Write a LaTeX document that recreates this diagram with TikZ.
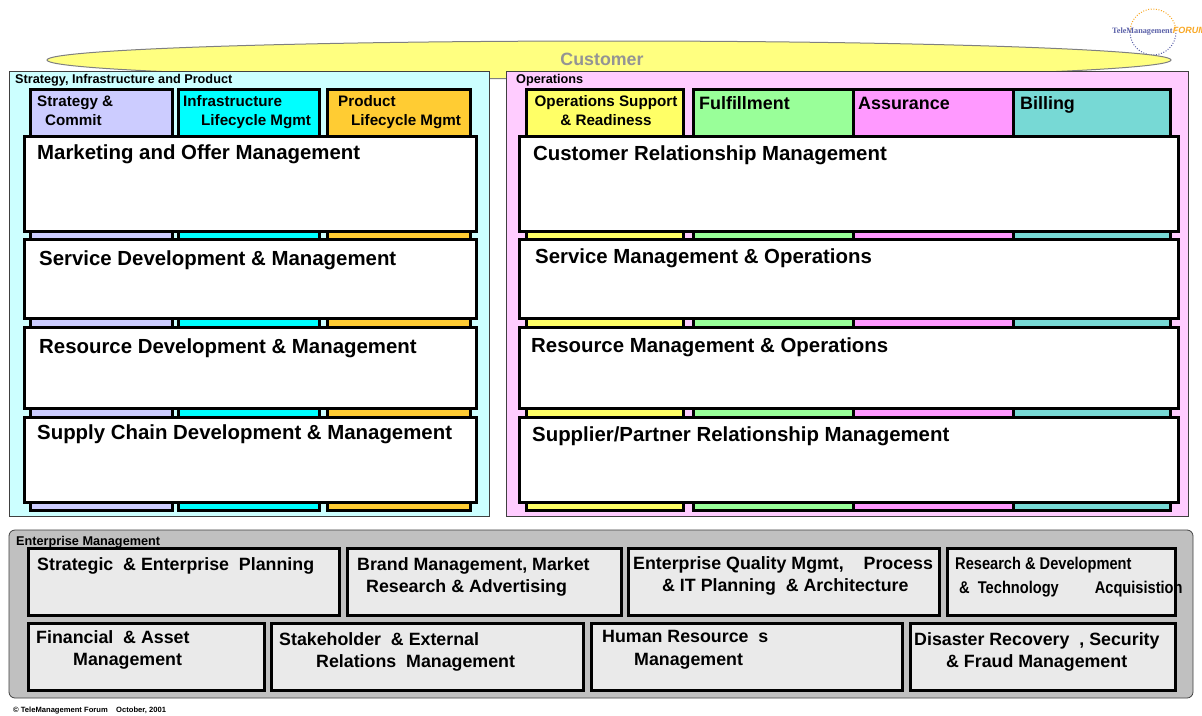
\documentclass[tikz,border=0pt]{standalone}
\usepackage{fontspec}
\setmainfont{Liberation Sans}
\newfontfamily\narrowfont[FakeStretch=0.86]{Liberation Sans}
\newfontfamily\logofont{Liberation Serif}
\definecolor{custfill}{HTML}{FFFF80}
\definecolor{leftfill}{HTML}{CCFFFF}
\definecolor{rightfill}{HTML}{FFCCFF}
\definecolor{entfill}{HTML}{C0C0C0}
\definecolor{cellfill}{HTML}{EAEAEA}
\definecolor{stratfill}{HTML}{CCCCFF}
\definecolor{infrafill}{HTML}{00FFFF}
\definecolor{prodfill}{HTML}{FFCC33}
\definecolor{opsfill}{HTML}{FFFF66}
\definecolor{fulfill}{HTML}{99FF99}
\definecolor{assurefill}{HTML}{FF99FF}
\definecolor{billfill}{HTML}{77D9D5}
\definecolor{logoblue}{HTML}{5A60A8}
\definecolor{logoorange}{HTML}{F9A825}
\tikzset{
  panel/.style={draw=black!75,line width=.8pt},
  thickbox/.style={draw=black,line width=3pt},
  paneltitle/.style={anchor=west,inner sep=0pt,font=\bfseries\fontsize{12.7}{14}\selectfont},
  coltitle/.style={anchor=west,inner sep=0pt,align=left,font=\bfseries\fontsize{15.2}{19}\selectfont},
  flowtitle/.style={anchor=west,inner sep=0pt,font=\bfseries\fontsize{17.9}{20}\selectfont},
  rowtitle/.style={anchor=west,inner sep=0pt,font=\bfseries\fontsize{20.4}{23}\selectfont},
  enttitle/.style={anchor=west,inner sep=0pt,align=left,font=\bfseries\fontsize{17.8}{22.5}\selectfont},
}
\begin{document}
\begin{tikzpicture}[x=1pt,y=-1pt]
\clip (0,0) rectangle (1202,715);
\fill[white] (0,0) rectangle (1202,715);
%logo
\draw[logoorange,line width=1pt,dash pattern=on 1pt off 1.6pt] (1130,32) arc[start angle=180,end angle=360,radius=23];
\draw[logoblue,line width=1pt,dash pattern=on 1pt off 1.6pt] (1130,32) arc[start angle=180,end angle=0,radius=23];
\node[anchor=west,inner sep=0pt,text=logoblue,font=\logofont\bfseries\fontsize{8.2}{10}\selectfont] (logotext) at (1112,32) {TeleManagement};
\node[anchor=base west,inner sep=0pt,text=logoorange,font=\bfseries\itshape\fontsize{9}{10}\selectfont] (logoforum) at (logotext.base east) {FORUM};
%customer
\draw[draw=black!50,fill=custfill,line width=1pt] (609,60) ellipse (562 and 19);
\node[inner sep=0pt,text=black!42,font=\bfseries\fontsize{17.8}{20}\selectfont] (customer) at (602,59) {Customer};
%panels
\draw[panel,fill=leftfill] (9,71) rectangle (489,516);
\draw[panel,fill=rightfill] (506,71) rectangle (1188,516);
\draw[panel,fill=entfill,rounded corners=6pt] (9,530) rectangle (1193,698);
\node[paneltitle] (entT) at (16,542) {Enterprise Management};
%vertical columns
\foreach \xa/\xb/\col in {30/172/stratfill,178/319/infrafill,327/470/prodfill,
  526/683/opsfill,693/853/fulfill,853/1013/assurefill,1013/1170/billfill}
  \draw[thickbox,fill=\col] (\xa,89) rectangle (\xb,510);
%horizontal rows
\foreach \ya/\yb in {136/231,239/318,327/408,417/502}{
  \draw[thickbox,fill=white] (24,\ya) rectangle (476,\yb);
  \draw[thickbox,fill=white] (519,\ya) rectangle (1178,\yb);
}
%enterprise cells
\foreach \xa/\xb in {28/339,347/621,628/939,947/1175}
  \draw[thickbox,fill=cellfill] (\xa,548) rectangle (\xb,615);
\foreach \xa/\xb in {28/264,271/583,591/902,910/1175}
  \draw[thickbox,fill=cellfill] (\xa,623) rectangle (\xb,690);
%panel titles
\node[paneltitle] (sipT) at (15,80) {Strategy, Infrastructure and Product};
\node[paneltitle] (opsT) at (516,80) {Operations};
%column titles
\node[coltitle] (stratT) at (37,111) {Strategy \&\\\hspace*{8pt}Commit};
\node[coltitle] (infraT) at (183,112) {Infrastructure\\\hspace*{18pt}Lifecycle Mgmt};
\node[coltitle] (prodT) at (338,112) {Product\\\hspace*{13pt}Lifecycle Mgmt};
\node[coltitle,anchor=center,align=center] (opsupT) at (606,111) {Operations Support\\\& Readiness};
\node[flowtitle] (fulT) at (699,103) {Fulfillment};
\node[flowtitle] (assT) at (858,103) {Assurance};
\node[flowtitle] (bilT) at (1020,105) {Billing};
%row titles
\node[rowtitle] (mktT) at (37,154) {Marketing and Offer Management};
\node[rowtitle] (sdmT) at (39,260) {Service Development \& Management};
\node[rowtitle] (rdmT) at (39,348) {Resource Development \& Management};
\node[rowtitle] (scmT) at (37,434) {Supply Chain Development \& Management};
\node[rowtitle] (crmT) at (533,155) {Customer Relationship Management};
\node[rowtitle] (smoT) at (535,258) {Service Management \& Operations};
\node[rowtitle] (rmoT) at (531,347) {Resource Management \& Operations};
\node[rowtitle] (sprT) at (532,436) {Supplier/Partner Relationship Management};
%enterprise titles
\node[enttitle] (sepT) at (37,566) {Strategic\ \ \& Enterprise\ \ Planning};
\node[enttitle] (brandT) at (357,577) {Brand Management, Market\\\hspace*{9pt}Research \& Advertising};
\node[enttitle] (eqT) at (633,576) {Enterprise Quality Mgmt,\ \ \ \ Process\\\hspace*{29pt}\& IT Planning\ \ \& Architecture};
\node[enttitle,font=\narrowfont\bfseries\fontsize{17}{24}\selectfont] (rndT) at (955,577) {Research \& Development\\\hspace*{4pt}\&\ \ Technology\hspace{36pt}Acquisistion};
\node[enttitle] (finT) at (36,650) {Financial\ \ \& Asset\\\hspace*{37pt}Management};
\node[enttitle] (stkT) at (279,652) {Stakeholder\ \ \& External\\\hspace*{37pt}Relations\ \ Management};
\node[enttitle] (hrT) at (602,650) {Human Resource\ \ s\\\hspace*{32pt}Management};
\node[enttitle] (drT) at (914,652) {Disaster Recovery\ \ , Security\\\hspace*{32pt}\& Fraud Management};
%footer
\node[anchor=west,inner sep=0pt,font=\bfseries\fontsize{7.6}{8}\selectfont] (footT) at (13,711) {\textcopyright\ TeleManagement Forum\ \ \ \ October, 2001};
\end{tikzpicture}
\end{document}
